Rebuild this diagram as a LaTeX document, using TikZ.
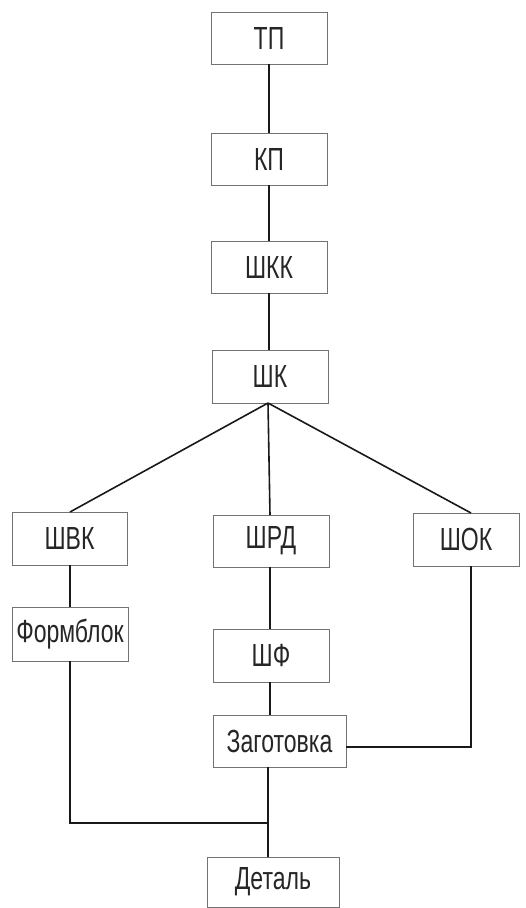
\documentclass[tikz,border=0pt]{standalone}
\usepackage{fontspec}
\setmainfont{Liberation Sans}
\begin{document}
\begin{tikzpicture}[x=1pt,y=-1pt,
  blk/.style={draw=black!55,line width=0.9pt,fill=white,inner sep=0pt,font=\fontsize{32}{34}\selectfont,text=black!85},
  conn/.style={draw=black!90,line width=1.6pt}]
\useasboundingbox (0,0) rectangle (526,908);
\newcommand{\nx}[1]{\scalebox{0.72}[1]{#1}}
\node[blk,minimum width=116pt,minimum height=52pt] (tp) at (269,38) {\nx{ТП}};
\node[blk,minimum width=116pt,minimum height=52pt] (kp) at (269,159) {\nx{КП}};
\node[blk,minimum width=116pt,minimum height=52pt] (shkk) at (269,267) {\nx{ШКК}};
\node[blk,minimum width=116pt,minimum height=53pt] (shk) at (270,376.5) {\nx{ШК}};
\node[blk,minimum width=115pt,minimum height=53pt] (shvk) at (69.5,538.5) {\nx{ШВК}};
\node[blk,minimum width=116pt,minimum height=52pt] (shrd) at (271,541) {\nx{ШРД}};
\node[blk,minimum width=106pt,minimum height=53pt] (shok) at (466,539.5) {\nx{ШОК}};
\node[blk,minimum width=116pt,minimum height=54pt] (form) at (70,634) {\nx{Формблок}};
\node[blk,minimum width=116pt,minimum height=53pt] (shf) at (271,655.5) {\nx{ШФ}};
\node[blk,minimum width=133pt,minimum height=52pt] (zag) at (279.5,741) {\nx{Заготовка}};
\node[blk,minimum width=132pt,minimum height=50pt] (det) at (273,882) {\nx{Деталь}};
\coordinate (shkb) at (268,403);
\coordinate (j) at (268,823);
\coordinate (sk) at (471,747);
\draw[conn] (tp.south) -- (kp.north);
\draw[conn] (kp.south) -- (shkk.north);
\draw[conn] (shkk.south -| tp.south) -- (shk.north -| tp.south);
\draw[conn] (shkb) -- (70,512);
\draw[conn] (shkb) -- (270,515);
\draw[conn] (shkb) -- (471,513);
\draw[conn] (70,565) -- (70,607);
\draw[conn] (70,661) -- (70,823) -- (j);
\draw[conn] (270,567) -- (270,629);
\draw[conn] (270,682) -- (270,715);
\draw[conn] (471,566) -- (sk) -- (zag.east |- sk);
\draw[conn] (268,767) -- (j) -- (268,857);
\end{tikzpicture}
\end{document}
